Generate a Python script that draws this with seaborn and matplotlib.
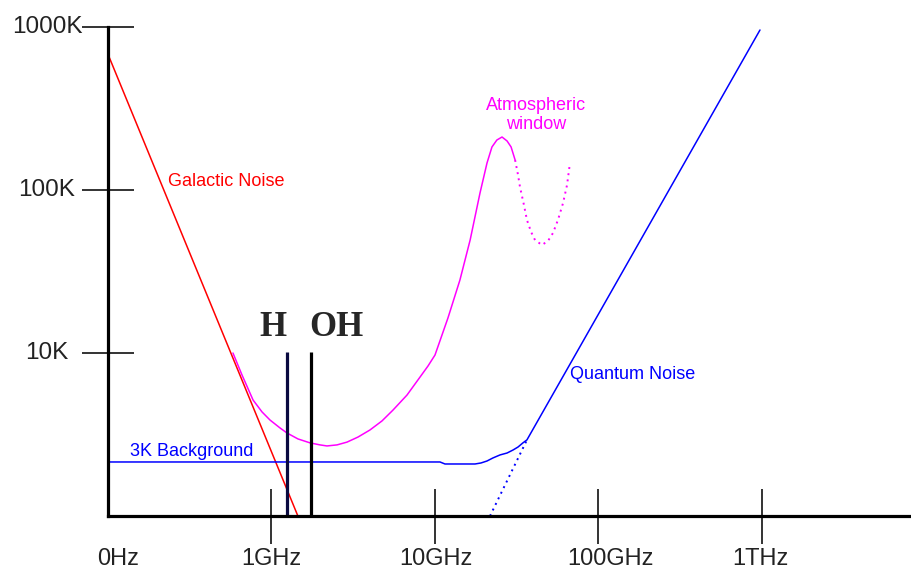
import numpy as np
import pandas as pd
import matplotlib
matplotlib.use("Agg")
import matplotlib.pyplot as plt
import matplotlib.transforms as mtransforms
import seaborn as sns

# ---------------- data (frequency in GHz, temperature in K) ----------------
galactic_freq = [0.1, 1.45]
galactic_temp = [680.0, 1.0]

atmos_freq = [0.581, 0.660, 0.771, 0.875, 0.979, 1.127, 1.244, 1.452, 1.720, 1.981,
              2.185, 2.515, 2.896, 3.38, 4.00, 4.74, 5.54, 6.74, 8.10, 9.06,
              10.0, 12.0, 14.2, 16.4, 18.85, 20.8, 22.3, 23.9, 25.7, 27.6,
              29.2, 30.9]
atmos_temp = [10.0, 7.33, 5.15, 4.35, 3.88, 3.47, 3.23, 2.97, 2.81, 2.73,
              2.69, 2.73, 2.84, 3.05, 3.37, 3.83, 4.47, 5.52, 7.12, 8.32,
              9.72, 16.4, 28.0, 49.3, 95.9, 146.4, 183.6, 202.6, 211.4, 199.8,
              183.6, 152.8]

window_freq = [30.9, 32.2, 33.1, 35.0, 36.5, 38.7, 40.9, 45.1, 49.1, 52.7,
               56.5, 60.7, 64.2, 66.9]
window_temp = [152.8, 123.6, 104.3, 80.9, 65.5, 55.3, 49.3, 46.0, 48.7, 54.5,
               65.5, 83.2, 107.3, 146.4]

background_freq = [0.1, 10.73, 11.51, 17.57, 19.11, 20.8, 22.6, 25.0, 27.6, 30.0,
                   32.2, 34.5, 36.5, 972.0]
background_temp = [2.145, 2.145, 2.085, 2.085, 2.115, 2.175, 2.27, 2.37, 2.435, 2.54,
                   2.65, 2.81, 2.93, 958.6]

quantum_freq = [21.7, 36.5]
quantum_temp = [1.0, 2.93]

h_line_freq = 1.245
oh_line_freq = 1.745
line_temp = [1.0, 10.1]

x_tick_freq = [1, 10, 100, 1000]
x_tick_labels = ["0Hz", "1GHz", "10GHz", "100GHz", "1THz"]
x_label_freq = [0.115, 0.995, 10.1, 119.0, 973.0]
y_tick_temp = [10, 100, 1000]
y_tick_labels = ["10K", "100K", "1000K"]

# ---------------- figure ----------------
sns.set_style("white")
plt.rcParams["font.family"] = ["Liberation Sans", "DejaVu Sans"]

W, H = 912, 571
fig = plt.figure(figsize=(W / 100, H / 100), dpi=100)
ax = fig.add_axes([108 / W, (H - 516) / H, (W - 108) / W, (516 - 27) / H])
ax.set_xscale("log")
ax.set_yscale("log")
ax.set_xlim(0.1, 10 ** ((W - 108) / 163.5 - 1))
ax.set_ylim(1, 1000)

def draw(xs, ys, color, ls="-", lw=1.1):
    df = pd.DataFrame({"freq": xs, "temp": ys})
    sns.lineplot(data=df, x="freq", y="temp", ax=ax, color=color, sort=False,
                 estimator=None, linestyle=ls, linewidth=lw, clip_on=False)

draw(galactic_freq, galactic_temp, "#ff0000")
draw(atmos_freq, atmos_temp, "#ff00ff")
draw(window_freq, window_temp, "#ff00ff", ls=(0, (1, 2.2)), lw=1.4)
draw(background_freq, background_temp, "#0000ff")
draw(quantum_freq, quantum_temp, "#0000ff", ls=(0, (1, 2.2)), lw=1.4)

ax.plot([h_line_freq, h_line_freq], line_temp, color="#0a0a40", lw=2.3, solid_capstyle="butt")
ax.plot([oh_line_freq, oh_line_freq], line_temp, color="#000000", lw=2.3, solid_capstyle="butt")

# spines
for s in ["top", "right"]:
    ax.spines[s].set_visible(False)
for s in ["left", "bottom"]:
    ax.spines[s].set_color("black")
    ax.spines[s].set_linewidth(2.3)
    ax.spines[s].set_zorder(5)

ax.set_xticks(x_tick_freq)
ax.set_yticks(y_tick_temp)
ax.minorticks_off()
ax.set_xticklabels([])
ax.set_yticklabels([])
ax.tick_params(axis="x", which="major", bottom=True, direction="inout", length=39.6,
               width=1.4, color="#333333")
ax.tick_params(axis="y", which="major", left=True, direction="inout", length=38,
               width=1.4, color="#333333")
ax.set_xlabel("")
ax.set_ylabel("")

trans_x = mtransforms.blended_transform_factory(ax.transData, ax.transAxes)
for f, lab in zip(x_label_freq, x_tick_labels):
    ax.text(f, -43 / 489, lab, transform=trans_x, ha="center", va="center",
            fontsize=17, color="#222222")
trans_y = mtransforms.blended_transform_factory(ax.transAxes, ax.transData)
for t, lab in zip(y_tick_temp, y_tick_labels):
    ax.text((47 - 108) / 804, t, lab, transform=trans_y, ha="center", va="center",
            fontsize=17.5, color="#222222", clip_on=False)

# annotations
ax.text(0.233, 113.5, "Galactic Noise", color="#ff0000", fontsize=13, ha="left", va="center")
ax.text(41.5, 288, "Atmospheric\nwindow", color="#ff00ff", fontsize=13, ha="center",
        va="center", linespacing=1.2)
ax.text(67, 7.33, "Quantum Noise", color="#0000ff", fontsize=13, ha="left", va="center")
ax.text(0.1365, 2.47, "3K Background", color="#0000ff", fontsize=13, ha="left", va="center")
serif = ["Liberation Serif", "DejaVu Serif"]
ax.text(1.02, 14.4, "H", fontsize=25, fontweight="bold", family=serif, ha="center", va="center")
ax.text(2.51, 14.4, "OH", fontsize=25, fontweight="bold", family=serif, ha="center", va="center")

fig.savefig("out.png", dpi=100)
